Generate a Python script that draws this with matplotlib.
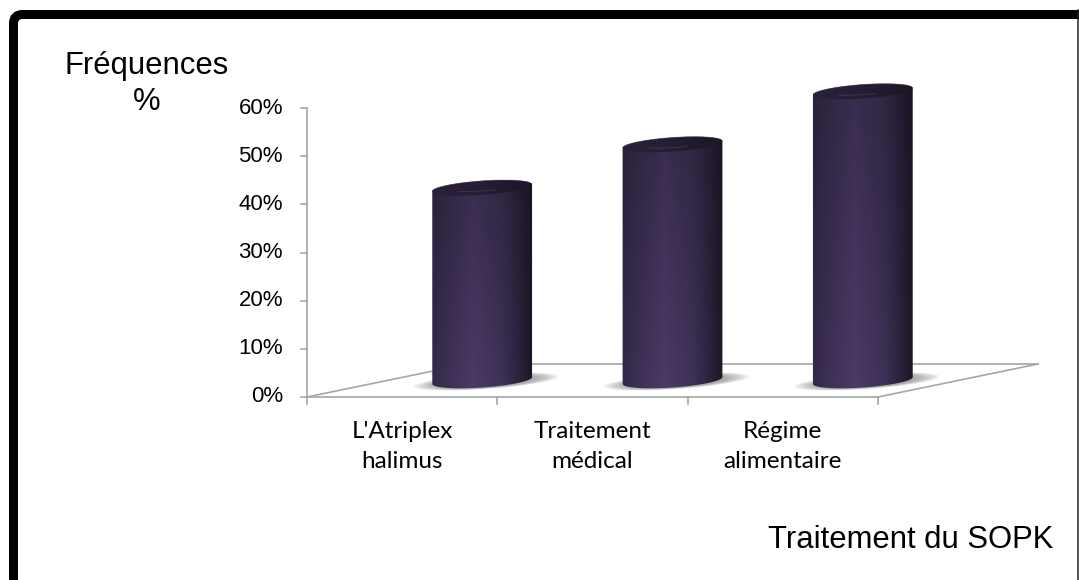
import numpy as np
import matplotlib
matplotlib.use('Agg')
import matplotlib.pyplot as plt
from matplotlib.patches import Polygon, FancyBboxPatch
from matplotlib.lines import Line2D
from matplotlib.transforms import Affine2D
from matplotlib.colors import to_rgb

# ---------------- data ----------------
categories = ["L'Atriplex\nhalimus", "Traitement\nmédical", "Régime\nalimentaire"]
values = [0.40, 0.49, 0.60]
yticks = [0.0, 0.1, 0.2, 0.3, 0.4, 0.5, 0.6]
ytick_labels = ["0%", "10%", "20%", "30%", "40%", "50%", "60%"]
ylabel_lines = ["Fréquences", "%"]
xlabel = "Traitement du SOPK"

# ---------------- layout ----------------
W, H = 1079, 580
fig = plt.figure(figsize=(W / 100, H / 100), dpi=100)
ax = fig.add_axes([0, 0, 1, 1])
X0, Y0 = 307, 397            # pixel position of the front origin
PX_CAT = 571 / 3             # pixels per category
PX_VAL = 289 / 0.6           # pixels per unit value
ax.set_xlim(-X0 / PX_CAT, (W - X0) / PX_CAT)
ax.set_ylim(-(H - Y0) / PX_VAL, Y0 / PX_VAL)
ax.axis('off')

p0 = ax.transData.transform((0, 0))
p1 = ax.transData.transform((1, 1))
sx, sy = p1[0] - p0[0], p1[1] - p0[1]

DX, DY = 160 / sx, 33 / sy   # depth offset of the floor
ncat = len(categories)
axis_col = '#a6a6a6'
lw_axis = 1.2

# floor
ax.plot([0, ncat], [0, 0], color=axis_col, lw=lw_axis, zorder=1, solid_capstyle='butt')
ax.plot([ncat, ncat + DX], [0, DY], color=axis_col, lw=lw_axis, zorder=1)
ax.plot([DX, ncat + DX], [DY, DY], color=axis_col, lw=lw_axis, zorder=1)
ax.plot([0, DX], [0, DY], color=axis_col, lw=lw_axis, zorder=1)

# value axis
ax.plot([0, 0], [0, yticks[-1]], color=axis_col, lw=lw_axis, zorder=1)
for yt, lab in zip(yticks, ytick_labels):
    ax.plot([-6 / sx, 0], [yt, yt], color=axis_col, lw=lw_axis, zorder=1)
    ax.text(-24 / sx, yt, lab, ha='right', va='center', fontsize=16,
            family='Liberation Sans', color='#000000')

# category axis
for k in range(ncat + 1):
    ax.plot([k, k], [0, -7 / sy], color=axis_col, lw=lw_axis, zorder=1)
for i, lab in enumerate(categories):
    ax.text(i + 0.5, -24 / sy, lab, ha='center', va='top', fontsize=17.5,
            family='Lato', color='#000000', linespacing=1.55)

# ---------------- cylinders ----------------
A_PX, B_PX, TH = 50.0, 7.0, np.deg2rad(4.0)


def ellipse_pts(cx, cy, t, a=A_PX, b=B_PX):
    ex = a * np.cos(t) * np.cos(TH) - b * np.sin(t) * np.sin(TH)
    ey = a * np.cos(t) * np.sin(TH) + b * np.sin(t) * np.cos(TH)
    return np.column_stack([cx + ex / sx, cy + ey / sy])


light = np.array(to_rgb('#4b3b68'))
dark = np.array(to_rgb('#120e18'))
u = np.linspace(0, 1, 200)
f = np.interp(u, [0, 0.08, 0.42, 0.7, 0.88, 1.0], [0.55, 0.68, 1.0, 0.78, 0.42, 0.12])

for i, v in enumerate(values):
    cx = i + 0.5 + DX / 2
    base = DY / 2
    top = v + DY / 2

    # shadow
    for k, s in enumerate(np.linspace(1.45, 1.0, 7)):
        pts = ellipse_pts(cx + 4 / sx, base - 1 / sy, np.linspace(0, 2 * np.pi, 120),
                          a=A_PX * s, b=B_PX * (0.9 + 0.35 * (s - 1)))
        ax.add_patch(Polygon(pts, closed=True, facecolor='#555555', edgecolor='none',
                             alpha=0.09, zorder=2))

    # body
    upper = ellipse_pts(cx, top, np.linspace(0, np.pi, 80))
    lower = ellipse_pts(cx, base, np.linspace(np.pi, 2 * np.pi, 80))
    body = Polygon(np.vstack([upper, lower]), closed=True, facecolor='none',
                   edgecolor='none', transform=ax.transData)
    ax.add_patch(body)
    w = np.linspace(0, 1, 100)
    g = 1.0 - 0.32 * w
    grad = dark[None, None, :] + (light - dark)[None, None, :] * (f[None, :, None] * g[:, None, None])
    ext = [cx - 52 / sx, cx + 52 / sx, base - 12 / sy, top + 12 / sy]
    im = ax.imshow(grad, extent=ext, origin='lower', aspect='auto', zorder=3,
                   interpolation='bilinear')
    im.set_clip_path(body)

    # top face
    topface = Polygon(ellipse_pts(cx, top, np.linspace(0, 2 * np.pi, 160)), closed=True,
                      facecolor='none', edgecolor='none', transform=ax.transData)
    ax.add_patch(topface)
    ft = np.interp(u, [0, 0.4, 1.0], [0.42, 0.36, 0.18])
    tgrad = dark[None, None, :] + (light - dark)[None, None, :] * (ft[None, :, None] * np.ones((20, 1, 1)))
    ext2 = [cx - 52 / sx, cx + 52 / sx, top - 10 / sy, top + 10 / sy]
    im2 = ax.imshow(tgrad, extent=ext2, origin='lower', aspect='auto', zorder=4,
                    interpolation='bilinear')
    im2.set_clip_path(topface)
    hl = ellipse_pts(cx, top, np.linspace(1.2 * np.pi, 1.65 * np.pi, 30), a=A_PX * 0.6, b=B_PX * 0.45)
    ax.plot(hl[:, 0], hl[:, 1], color='#6a5f7e', lw=0.7, alpha=0.35, zorder=5)
    rim = ellipse_pts(cx, top, np.linspace(0.1 * np.pi, 0.9 * np.pi, 60))
    ax.plot(rim[:, 0], rim[:, 1], color='#6e6680', lw=0.6, alpha=0.45, zorder=5)

# ---------------- titles ----------------
fig.text(146.5 / W, 1 - 74 / H, ylabel_lines[0], ha='center', va='baseline',
         fontsize=22.3, family='Liberation Sans', color='#000000')
fig.text(146.5 / W, 1 - 110 / H, ylabel_lines[1], ha='center', va='baseline',
         fontsize=22.3, family='Liberation Sans', color='#000000')
fig.text(1053 / W, 1 - 548 / H, xlabel, ha='right', va='baseline',
         fontsize=22.3, family='Liberation Sans', color='#000000')

# ---------------- frame ----------------
pix = Affine2D().scale(1 / W, 1 / H) + fig.transFigure
frame = FancyBboxPatch((13.5, -30), 1200 - 13.5, (H - 14.5) + 30,
                       boxstyle='round,pad=0,rounding_size=9',
                       transform=pix, facecolor='none',
                       edgecolor='black', linewidth=9 * 0.72, clip_on=False)
fig.patches.append(frame)
fig.lines.append(Line2D([1078, 1078], [0, H - 10], transform=pix, color='#222222',
                        lw=1.5 * 0.72))

fig.savefig('out.png', dpi=100)
